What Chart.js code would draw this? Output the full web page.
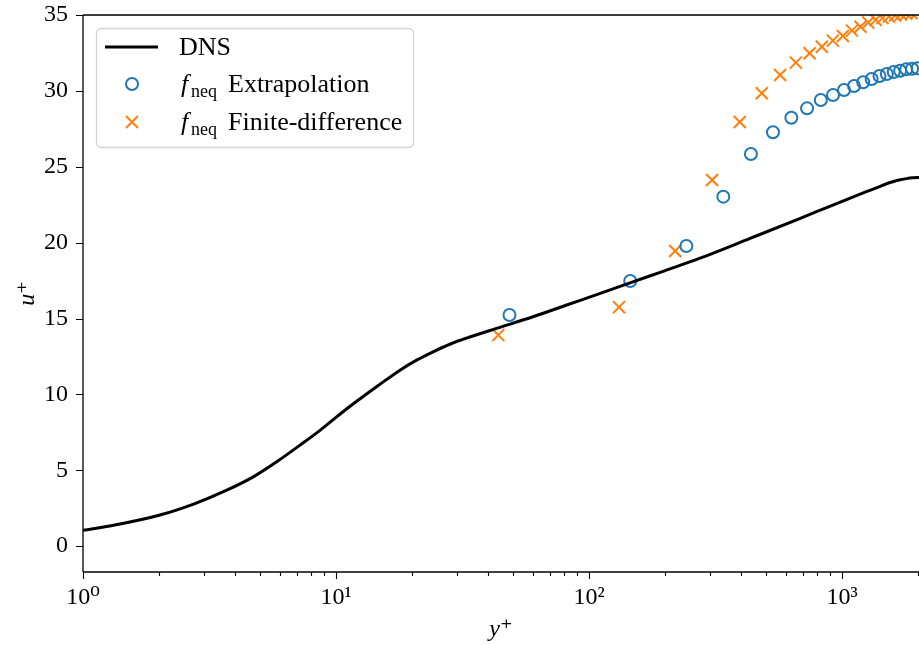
<!DOCTYPE html>
<html>
<head>
<meta charset="utf-8">
<script src="https://cdn.jsdelivr.net/npm/chart.js@4.4.1/dist/chart.umd.min.js"></script>
<style>
  html, body { margin: 0; padding: 0; background: #fff; }
  #wrap { width: 919px; height: 645px; }
</style>
</head>
<body>
<div id="wrap"><canvas id="grafico"></canvas></div>
<script>
// DNS profile
const dnsY = [1, 1.32, 2, 2.77, 3.7, 4.71, 5.83, 7.21, 8.67, 10, 11, 12, 13.2, 14.5, 17.9, 21, 24.2, 28.5, 32.8, 43.1, 60.1, 81.6, 110.8, 150, 200, 273, 433, 684, 920, 1248, 1400, 1500, 1600, 1700, 1800, 1900, 2015];
const dnsU = [1.05, 1.38, 2.04, 2.81, 3.69, 4.57, 5.56, 6.66, 7.65, 8.49, 9.04, 9.52, 10.03, 10.52, 11.6, 12.29, 12.81, 13.34, 13.71, 14.35, 15.12, 15.89, 16.66, 17.43, 18.16, 18.96, 20.28, 21.6, 22.48, 23.36, 23.68, 23.88, 24.03, 24.14, 24.22, 24.27, 24.3];

// f_neq extrapolation
const extrapY = [48.5, 145.5, 242.5, 339.5, 436.5, 533.5, 630.5, 727.5, 824.5, 921.5, 1018.5, 1115.5, 1212.5, 1309.5, 1406.5, 1503.5, 1600.5, 1697.5, 1794.5, 1891.5, 1988.5];
const extrapU = [15.23, 17.47, 19.78, 23.03, 25.84, 27.27, 28.23, 28.85, 29.4, 29.73, 30.06, 30.32, 30.57, 30.78, 30.98, 31.11, 31.24, 31.33, 31.42, 31.46, 31.49];

// f_neq finite-difference
const fdY = [43.8, 131.4, 219, 306.6, 394.2, 481.8, 569.4, 657, 744.6, 832.2, 919.8, 1007.4, 1095, 1182.6, 1270.2, 1357.8, 1445.4, 1533, 1620.6, 1708.2, 1795.8, 1883.4, 1971];
const fdU = [13.91, 15.75, 19.45, 24.13, 27.95, 29.84, 31.05, 31.86, 32.48, 32.91, 33.31, 33.62, 33.97, 34.23, 34.5, 34.68, 34.8, 34.9, 34.97, 35.03, 35.08, 35.12, 35.15];

const xTicks = [1, 10, 100, 1000];
const xTickLabels = ['10\u2070', '10\u00B9', '10\u00B2', '10\u00B3'];
const xMinorTicks = [2, 3, 4, 5, 6, 7, 8, 9, 20, 30, 40, 50, 60, 70, 80, 90, 200, 300, 400, 500, 600, 700, 800, 900, 2000];
const yTicks = [0, 5, 10, 15, 20, 25, 30, 35];

const legendLabels = ['DNS', 'Extrapolation', 'Finite-difference'];

const fonte = 'Liberation Serif, DejaVu Serif, serif';
const azul = '#1f77b4';
const laranja = '#ff7f0e';

function pares(xs, ys) {
    return xs.map((x, i) => ({ x: x, y: ys[i] }));
}

// spines + tick marks, matplotlib style
const eixosPlugin = {
    id: 'eixos',
    afterDraw(chart) {
        const { ctx, chartArea: a } = chart;
        const sx = chart.scales.x, sy = chart.scales.y;
        ctx.save();
        ctx.strokeStyle = '#000';
        ctx.lineWidth = 1.3;
        ctx.beginPath();
        ctx.moveTo(a.left, a.top); ctx.lineTo(a.right, a.top);
        ctx.moveTo(a.left, a.top); ctx.lineTo(a.left, a.bottom);
        ctx.moveTo(a.left, a.bottom); ctx.lineTo(a.right, a.bottom);
        ctx.stroke();
        ctx.lineWidth = 1.1;
        ctx.beginPath();
        xTicks.forEach(v => {
            const px = Math.round(sx.getPixelForValue(v)) + 0.5;
            ctx.moveTo(px, a.bottom); ctx.lineTo(px, a.bottom + 7);
        });
        xMinorTicks.forEach(v => {
            const px = Math.round(sx.getPixelForValue(v)) + 0.5;
            if (px > a.right) return;
            ctx.moveTo(px, a.bottom); ctx.lineTo(px, a.bottom + 4);
        });
        yTicks.forEach(v => {
            const py = Math.round(sy.getPixelForValue(v)) + 0.5;
            ctx.moveTo(a.left, py); ctx.lineTo(a.left - 7, py);
        });
        ctx.stroke();
        ctx.restore();
    }
};

// legend drawn by hand so the subscript can be written
const legendaPlugin = {
    id: 'legenda',
    afterDraw(chart) {
        const ctx = chart.ctx;
        const x0 = 96, y0 = 28, w = 317, h = 119, r = 5;
        ctx.save();
        ctx.fillStyle = 'rgba(255,255,255,0.8)';
        ctx.strokeStyle = '#d4d4d4';
        ctx.lineWidth = 1.3;
        ctx.beginPath();
        ctx.roundRect(x0 + 0.5, y0 + 0.5, w, h, r);
        ctx.fill();
        ctx.stroke();

        const linhas = [47, 84, 122];
        // DNS line sample
        ctx.strokeStyle = '#000';
        ctx.lineWidth = 3;
        ctx.beginPath();
        ctx.moveTo(105, linhas[0]); ctx.lineTo(158, linhas[0]);
        ctx.stroke();
        // circle sample
        ctx.strokeStyle = azul;
        ctx.lineWidth = 2;
        ctx.beginPath();
        ctx.arc(132, linhas[1], 6, 0, Math.PI * 2);
        ctx.stroke();
        // cross sample
        ctx.strokeStyle = laranja;
        ctx.beginPath();
        ctx.moveTo(126, linhas[2] - 6); ctx.lineTo(138, linhas[2] + 6);
        ctx.moveTo(126, linhas[2] + 6); ctx.lineTo(138, linhas[2] - 6);
        ctx.stroke();

        ctx.fillStyle = '#000';
        ctx.textBaseline = 'alphabetic';
        ctx.font = '26px ' + fonte;
        ctx.fillText(legendLabels[0], 179, linhas[0] + 8);
        for (let i = 1; i < 3; i++) {
            const base = linhas[i] + 8;
            ctx.font = 'italic 26px ' + fonte;
            ctx.fillText('f', 181, base);
            ctx.font = '18px ' + fonte;
            ctx.fillText('neq', 191, base + 5);
            ctx.font = '26px ' + fonte;
            ctx.fillText(legendLabels[i], 228, base);
        }
        ctx.restore();
    }
};

const ctx = document.getElementById('grafico');

new Chart(ctx, {
    type: 'scatter',
    data: {
        datasets: [
            {
                label: 'DNS',
                data: pares(dnsY, dnsU),
                showLine: true,
                borderColor: '#000',
                borderWidth: 3,
                pointRadius: 0,
                cubicInterpolationMode: 'monotone',
                clip: 0
            },
            {
                label: 'Extrapolation',
                data: pares(extrapY, extrapU),
                pointStyle: 'circle',
                pointRadius: 6,
                pointBorderWidth: 2,
                borderColor: azul,
                backgroundColor: 'rgba(0,0,0,0)',
                clip: 0
            },
            {
                label: 'Finite-difference',
                data: pares(fdY, fdU),
                pointStyle: 'crossRot',
                pointRadius: 8.5,
                pointBorderWidth: 2,
                borderColor: laranja,
                backgroundColor: laranja,
                clip: 0
            }
        ]
    },
    options: {
        responsive: true,
        maintainAspectRatio: false,
        animation: false,
        layout: { autoPadding: false, padding: { top: 15, right: 0, left: 0, bottom: 0 } },
        plugins: {
            legend: { display: false },
            tooltip: { enabled: false }
        },
        scales: {
            x: {
                type: 'logarithmic',
                min: 1,
                max: 2015,
                border: { display: false },
                grid: { display: false, drawTicks: false },
                afterBuildTicks: scale => { scale.ticks = xTicks.map(v => ({ value: v })); },
                afterFit: scale => {
                    scale.height = 73;
                    scale.paddingLeft = 0;
                    scale.paddingRight = 0;
                },
                ticks: {
                    autoSkip: false,
                    maxRotation: 0,
                    padding: 11,
                    color: '#000',
                    font: { family: fonte, size: 24 },
                    callback: (v) => xTickLabels[xTicks.indexOf(v)]
                },
                title: {
                    display: true,
                    text: 'y\u207A',
                    color: '#000',
                    font: { family: fonte, size: 24, style: 'italic' },
                    padding: { top: 0, bottom: 1 }
                }
            },
            y: {
                min: -1.7,
                max: 35,
                border: { display: false },
                grid: { display: false, drawTicks: false },
                afterBuildTicks: scale => { scale.ticks = yTicks.map(v => ({ value: v })); },
                afterFit: scale => {
                    scale.width = 83;
                    scale.paddingTop = 0;
                    scale.paddingBottom = 0;
                },
                ticks: {
                    padding: 15,
                    color: '#000',
                    font: { family: fonte, size: 24 }
                },
                title: {
                    display: true,
                    text: 'u\u207A',
                    color: '#000',
                    font: { family: fonte, size: 24, style: 'italic' },
                    padding: { top: 13, bottom: 0 }
                }
            }
        }
    },
    plugins: [eixosPlugin, legendaPlugin]
});
</script>
</body>
</html>
